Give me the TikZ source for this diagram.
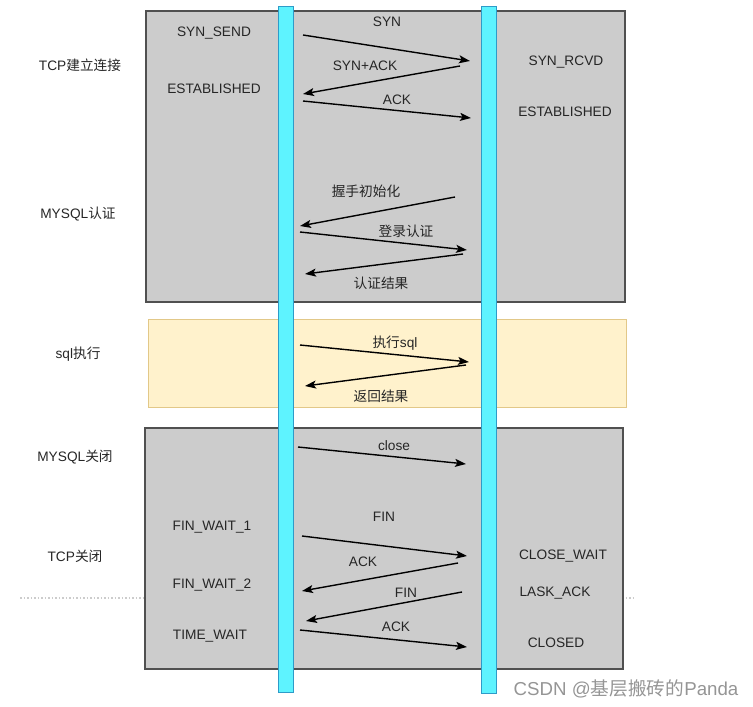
\documentclass[tikz,border=0pt]{standalone}
\usepackage{fontspec}
\setmainfont{Liberation Sans}
\newfontfamily\cjk{Noto Sans CJK SC}
\usetikzlibrary{arrows.meta}
\definecolor{boxgray}{HTML}{CCCCCC}
\definecolor{boxedge}{HTML}{505050}
\definecolor{barfill}{HTML}{5EF3FF}
\definecolor{baredge}{HTML}{2E9BC8}
\definecolor{yfill}{HTML}{FFF2CC}
\definecolor{yedge}{HTML}{E2C888}
\definecolor{txt}{HTML}{262626}
\definecolor{wm}{HTML}{959595}
\begin{document}
\begin{tikzpicture}[x=1pt,y=-1pt,
  lbl/.style={font=\fontsize{13.7}{16}\selectfont, text=txt, inner sep=0pt},
  msg/.style={-{Stealth[length=11pt,width=8pt,inset=2.5pt]}, line width=1.4pt, black},
  panel/.style={fill=boxgray, draw=boxedge, line width=1.3pt},
  ypanel/.style={fill=yfill, draw=yedge, line width=1pt},
  lifeline/.style={fill=barfill, draw=baredge, line width=1pt},
]
\useasboundingbox (0,0) rectangle (753,707);
% dotted separator
\coordinate (dl) at (20,598);
\coordinate (dr) at (635,598);
\draw[black!20, dotted, line width=1.5pt] (dl) -- (dr);
% panels
\path[panel] (146,11) rectangle (625,302);
\path[ypanel] (148,319) rectangle (626,407);
\path[panel] (145,428) rectangle (623,669);
% lifelines
\path[lifeline] (278,6) rectangle (293,692);
\path[lifeline] (481,6) rectangle (496,693);

% phase labels
\node[lbl] (p1) at (80,65) {TCP{\cjk 建立连接}};
\node[lbl] (p2) at (78,214) {MYSQL{\cjk 认证}};
\node[lbl] (p3) at (78,354) {sql{\cjk 执行}};
\node[lbl] (p4) at (75,457) {MYSQL{\cjk 关闭}};
\node[lbl] (p5) at (75,556) {TCP{\cjk 关闭}};

% client states
\node[lbl] (c1) at (214,33) {SYN\_SEND};
\node[lbl] (c2) at (214,89) {ESTABLISHED};
\node[lbl] (c3) at (212,527) {FIN\_WAIT\_1};
\node[lbl] (c4) at (212,585) {FIN\_WAIT\_2};
\node[lbl] (c5) at (210,636) {TIME\_WAIT};

% server states
\node[lbl] (s1) at (566,62) {SYN\_RCVD};
\node[lbl] (s2) at (565,112) {ESTABLISHED};
\node[lbl] (s3) at (563,556) {CLOSE\_WAIT};
\node[lbl] (s4) at (555,593) {LASK\_ACK};
\node[lbl] (s5) at (556,643) {CLOSED};

% message endpoints
\coordinate (a1) at (303,35);  \coordinate (b1) at (470,61);
\coordinate (a2) at (460,66);  \coordinate (b2) at (303,94);
\coordinate (a3) at (303,101); \coordinate (b3) at (471,118);
\coordinate (a4) at (455,197); \coordinate (b4) at (300,226);
\coordinate (a5) at (300,232); \coordinate (b5) at (467,250);
\coordinate (a6) at (463,254); \coordinate (b6) at (305,274);
\coordinate (a7) at (300,345); \coordinate (b7) at (469,362);
\coordinate (a8) at (466,365); \coordinate (b8) at (305,386);
\coordinate (a9) at (298,447); \coordinate (b9) at (466,464);
\coordinate (a10) at (302,536); \coordinate (b10) at (467,556);
\coordinate (a11) at (458,563); \coordinate (b11) at (302,591);
\coordinate (a12) at (462,592); \coordinate (b12) at (306,621);
\coordinate (a13) at (300,630); \coordinate (b13) at (467,647);

\draw[msg] (a1) -- (b1);
\draw[msg] (a2) -- (b2);
\draw[msg] (a3) -- (b3);
\draw[msg] (a4) -- (b4);
\draw[msg] (a5) -- (b5);
\draw[msg] (a6) -- (b6);
\draw[msg] (a7) -- (b7);
\draw[msg] (a8) -- (b8);
\draw[msg] (a9) -- (b9);
\draw[msg] (a10) -- (b10);
\draw[msg] (a11) -- (b11);
\draw[msg] (a12) -- (b12);
\draw[msg] (a13) -- (b13);

% message labels
\node[lbl] (m1) at (387,22) {SYN};
\node[lbl] (m2) at (365,66) {SYN+ACK};
\node[lbl] (m3) at (397,100) {ACK};
\node[lbl] (m4) at (366,191) {\cjk 握手初始化};
\node[lbl] (m5) at (406,231) {\cjk 登录认证};
\node[lbl] (m6) at (381,283) {\cjk 认证结果};
\node[lbl] (m7) at (395,343) {{\cjk 执行}sql};
\node[lbl] (m8) at (381,396) {\cjk 返回结果};
\node[lbl] (m9) at (394,446) {close};
\node[lbl] (m10) at (384,517) {FIN};
\node[lbl] (m11) at (363,562) {ACK};
\node[lbl] (m12) at (406,593) {FIN};
\node[lbl] (m13) at (396,627) {ACK};

% watermark
\node[font=\fontsize{18.7}{22}\selectfont, text=wm, inner sep=0pt] (wmk) at (626,689) {CSDN @{\cjk 基层搬砖的}Panda};
\end{tikzpicture}
\end{document}
